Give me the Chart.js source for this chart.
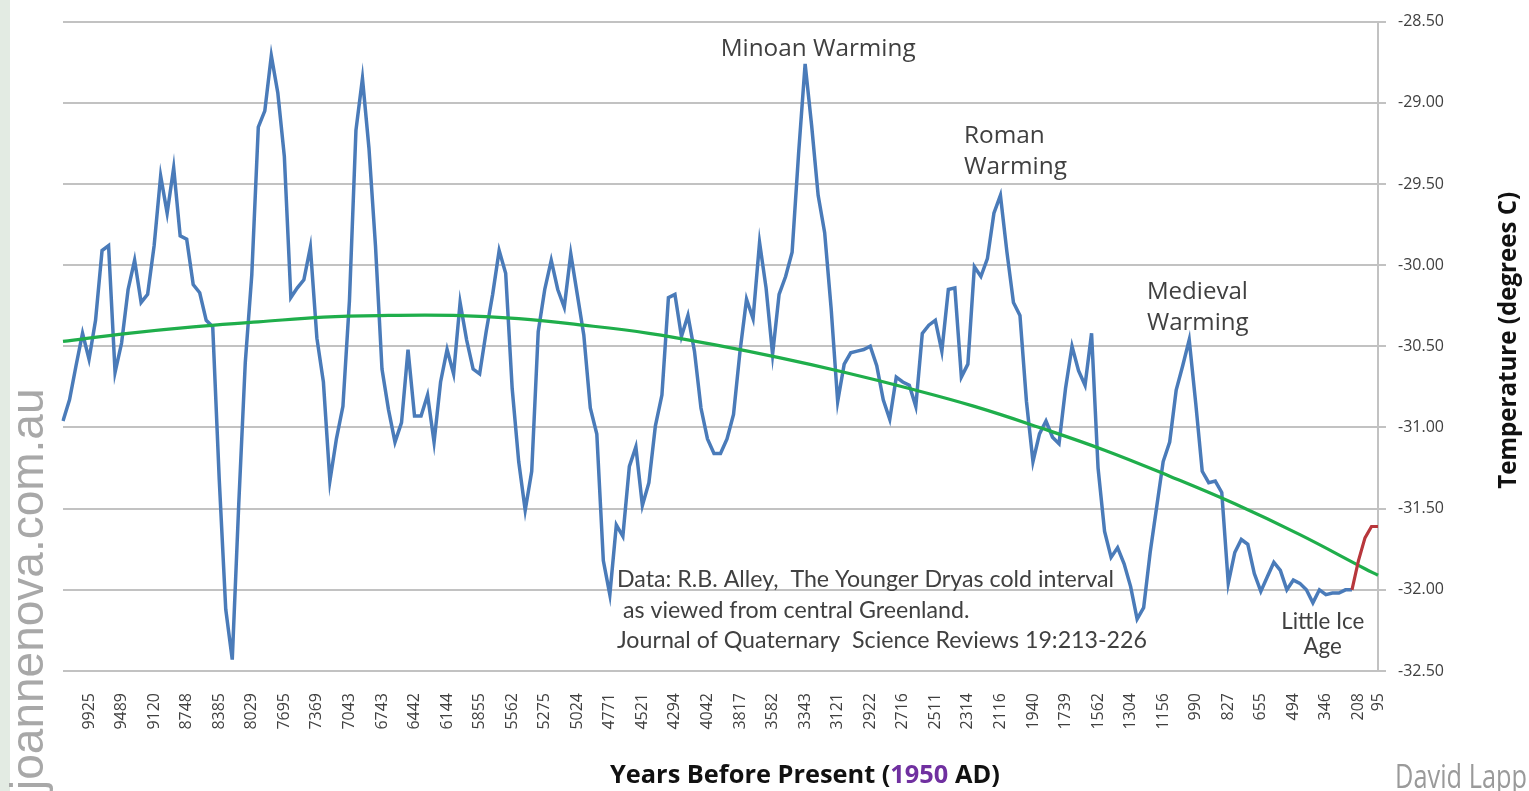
<!DOCTYPE html>
<html>
<head>
<meta charset="utf-8">
<script src="https://cdn.jsdelivr.net/npm/chart.js@4/dist/chart.umd.min.js"></script>
<style>
html,body{margin:0;padding:0;background:#fff;overflow:hidden}
#wrap{width:1529px;height:791px;position:relative}
</style>
</head>
<body>
<div id="wrap"><canvas id="c" width="1529" height="791"></canvas></div>
<script>
// ---- Tick labels (years before present) ----
const yearLabels = [9925, 9489, 9120, 8748, 8385, 8029, 7695, 7369, 7043, 6743, 6442,
  6144, 5855, 5562, 5275, 5024, 4771, 4521, 4294, 4042, 3817, 3582, 3343, 3121, 2922,
  2716, 2511, 2314, 2116, 1940, 1739, 1562, 1304, 1156, 990, 827, 655, 494, 346, 208, 95];

// ---- Greenland temperature series (deg C), one value per category ----
const blueTemps = [
  -30.96,-30.83,-30.62,-30.42,-30.58,-30.34,-29.91,-29.88,-30.66,-30.48,
  -30.15,-29.97,-30.23,-30.18,-29.88,-29.45,-29.68,-29.40,-29.82,-29.84,
  -30.12,-30.17,-30.34,-30.38,-31.32,-32.12,-32.43,-31.47,-30.60,-30.06,
  -29.15,-29.05,-28.71,-28.94,-29.33,-30.20,-30.14,-30.09,-29.89,-30.45,
  -30.72,-31.33,-31.07,-30.87,-30.22,-29.17,-28.85,-29.28,-29.88,-30.64,
  -30.89,-31.09,-30.97,-30.52,-30.93,-30.93,-30.80,-31.09,-30.72,-30.52,
  -30.67,-30.23,-30.46,-30.64,-30.67,-30.41,-30.18,-29.91,-30.05,-30.76,
  -31.21,-31.51,-31.27,-30.41,-30.15,-29.97,-30.15,-30.26,-29.93,-30.18,
  -30.43,-30.88,-31.04,-31.82,-32.03,-31.60,-31.67,-31.24,-31.12,-31.48,
  -31.34,-30.99,-30.80,-30.20,-30.18,-30.44,-30.31,-30.53,-30.88,-31.07,
  -31.16,-31.16,-31.07,-30.92,-30.53,-30.21,-30.33,-29.86,-30.14,-30.55,
  -30.18,-30.07,-29.92,-29.31,-28.76,-29.14,-29.57,-29.80,-30.27,-30.84,
  -30.61,-30.54,-30.53,-30.52,-30.50,-30.62,-30.83,-30.95,-30.69,-30.72,
  -30.74,-30.87,-30.42,-30.37,-30.34,-30.53,-30.15,-30.14,-30.69,-30.61,
  -30.01,-30.07,-29.96,-29.68,-29.57,-29.92,-30.23,-30.31,-30.84,-31.21,
  -31.04,-30.96,-31.06,-31.10,-30.76,-30.50,-30.65,-30.74,-30.42,-31.25,
  -31.64,-31.80,-31.74,-31.84,-31.98,-32.18,-32.11,-31.77,-31.49,-31.21,
  -31.09,-30.77,-30.62,-30.46,-30.85,-31.27,-31.34,-31.33,-31.40,-31.96,
  -31.77,-31.69,-31.72,-31.90,-32.01,-31.92,-31.83,-31.88,-32.00,-31.94,
  -31.96,-32.00,-32.08,-32.00,-32.03,-32.02,-32.02,-32.00,-32.00
];
// recent warming (red), continues from the last blue value
const redTemps = [-32.00, -31.82, -31.68, -31.61, -31.61];
// polynomial trend (green), read every 10th category plus the last one
const trendTemps = [-30.47,-30.42,-30.38,-30.35,-30.32,-30.31,-30.31,-30.33,-30.37,-30.42,
  -30.49,-30.57,-30.66,-30.76,-30.87,-31.00,-31.14,-31.30,-31.47,-31.66,-31.87,-31.91];

// ---- build category axis ----
const LABEL_FIRST = 4, LABEL_EVERY = 5, TREND_EVERY = 10;
const nCat = blueTemps.length + redTemps.length - 1;
const categories = Array.from({length: nCat}, () => '');
yearLabels.forEach((yr, j) => {
  const idx = (j < yearLabels.length - 1) ? LABEL_FIRST + j * LABEL_EVERY : nCat - 1;
  categories[idx] = String(yr);
});
const blueData = categories.map((_, i) => i < blueTemps.length ? blueTemps[i] : null);
const redStart = blueTemps.length - 1;
const redData = categories.map((_, i) => i >= redStart ? redTemps[i - redStart] : null);
const trendData = categories.map(() => null);
trendTemps.forEach((v, k) => {
  const idx = (k < trendTemps.length - 1) ? k * TREND_EVERY : nCat - 1;
  trendData[idx] = v;
});

// ---- annotations (anchored in data space: category index, temperature) ----
const notes = [
  {lines: ['Minoan Warming'], i: 116.0, t: -28.71, align: 'center', family: 'Open Sans', fit: ['Minoan Warming', 195], lh: 0},
  {lines: ['Roman', 'Warming'], i: 138.4, t: -29.25, align: 'left', family: 'Open Sans', fit: ['Warming', 103], lh: 0.19},
  {lines: ['Medieval', 'Warming'], i: 166.5, t: -30.21, align: 'left', family: 'Open Sans', fit: ['Medieval', 101], lh: 0.19},
  {lines: ['Data: R.B. Alley,  The Younger Dryas cold interval', ' as viewed from central Greenland.', 'Journal of Quaternary  Science Reviews 19:213-226'],
   i: 85.1, t: -31.985, align: 'left', family: 'Lato', fit: ['Data: R.B. Alley,  The Younger Dryas cold interval', 497], lh: 0.188},
  {lines: ['Little Ice', 'Age'], i: 193.5, t: -32.24, align: 'center', family: 'Lato', fit: ['Little Ice', 83], lh: 0.153}
];

function fitSize(ctx, text, family, weight, width) {
  ctx.font = weight + ' 20px "' + family + '"';
  const w = ctx.measureText(text).width;
  return 20 * width / w;
}

const deco = {
  id: 'deco',
  beforeDraw(chart) {
    const ctx = chart.ctx;
    ctx.save();
    ctx.fillStyle = '#ffffff';
    ctx.fillRect(0, 0, chart.width, chart.height);
    ctx.fillStyle = '#e3ebe3';
    ctx.fillRect(0, 0, 10, chart.height);
    ctx.restore();
  },
  afterDraw(chart) {
    const ctx = chart.ctx;
    const xs = chart.scales.x, ys = chart.scales.y;
    ctx.save();
    ctx.textBaseline = 'alphabetic';
    // annotations
    notes.forEach(n => {
      const size = fitSize(ctx, n.fit[0], n.family, 'normal', n.fit[1]);
      ctx.font = 'normal ' + size.toFixed(2) + 'px "' + n.family + '"';
      ctx.fillStyle = '#404040';
      ctx.textAlign = n.align;
      const x = xs.getPixelForValue(n.i);
      n.lines.forEach((line, k) => {
        const y = ys.getPixelForValue(n.t - k * n.lh);
        ctx.fillText(line, x, y);
      });
    });
    // y-axis title (reads bottom to top)
    const ca = chart.chartArea;
    let size = fitSize(ctx, 'Temperature (degrees C)', 'Open Sans', 'bold', 297);
    ctx.save();
    ctx.translate(1516, (ca.top + ca.bottom) / 2 - 6);
    ctx.rotate(-Math.PI / 2);
    ctx.font = 'bold ' + size.toFixed(2) + 'px "Open Sans"';
    ctx.fillStyle = '#111';
    ctx.textAlign = 'center';
    ctx.fillText('Temperature (degrees C)', 0, 0);
    ctx.restore();
    // x-axis title with purple year
    size = fitSize(ctx, 'Years Before Present (1950 AD)', 'Open Sans', 'bold', 390);
    ctx.font = 'bold ' + size.toFixed(2) + 'px "Open Sans"';
    const parts = [['Years Before Present (', '#111'], ['1950', '#7030a0'], [' AD)', '#111']];
    let px = 610;
    ctx.textAlign = 'left';
    parts.forEach(p => { ctx.fillStyle = p[1]; ctx.fillText(p[0], px, 783); px += ctx.measureText(p[0]).width; });
    // watermark
    ctx.save();
    ctx.translate(43, 790);
    ctx.rotate(-Math.PI / 2);
    ctx.font = '46px "Liberation Sans"';
    ctx.fillStyle = '#a8a8a8';
    ctx.textAlign = 'left';
    ctx.fillText('joannenova.com.au', 0, 0);
    ctx.restore();
    // author credit (narrow, like the original)
    ctx.save();
    ctx.font = '32px "Open Sans"';
    const cw = ctx.measureText('David Lapp').width;
    ctx.translate(1395, 788);
    ctx.scale(132 / cw, 1);
    ctx.fillStyle = '#9a9a9a';
    ctx.textAlign = 'left';
    ctx.fillText('David Lapp', 0, 0);
    ctx.restore();
    ctx.restore();
  }
};

function build() {
  const ctx = document.getElementById('c').getContext('2d');
  new Chart(ctx, {
    type: 'line',
    data: {
      labels: categories,
      datasets: [
        {label: 'Temperature', data: blueData, borderColor: '#4a7bb9', borderWidth: 3.5, pointRadius: 0, tension: 0, order: 3},
        {label: 'Trend', data: trendData, borderColor: '#1fae4b', borderWidth: 3.2, pointRadius: 0, spanGaps: true, tension: 0.4, order: 2},
        {label: 'Recent', data: redData, borderColor: '#b8373c', borderWidth: 3.2, pointRadius: 0, tension: 0, order: 1}
      ]
    },
    options: {
      responsive: false,
      animation: false,
      layout: {padding: {left: 63, top: 18, right: 0, bottom: 0}},
      plugins: {legend: {display: false}, tooltip: {enabled: false}, title: {display: false}},
      scales: {
        x: {
          type: 'category', offset: false,
          grid: {display: false}, border: {display: false},
          ticks: {autoSkip: false, minRotation: 90, maxRotation: 90, padding: 14,
                  color: '#404040', font: {family: 'Open Sans', size: 16}},
          afterFit(s) { s.height = 120; }
        },
        y: {
          position: 'right', min: -32.5, max: -28.5,
          ticks: {stepSize: 0.5, callback: v => v.toFixed(2), padding: 12,
                  color: '#404040', font: {family: 'Open Sans', size: 16}},
          grid: {color: '#c2c2c2', lineWidth: 2, tickLength: 8},
          border: {color: '#c2c2c2', width: 2},
          afterFit(s) { s.width = 151; }
        }
      }
    },
    plugins: [deco]
  });
}

const fontsToLoad = ['16px "Open Sans"', 'bold 16px "Open Sans"', '20px Lato', '46px "Liberation Sans"'];
Promise.all(fontsToLoad.map(f => document.fonts.load(f))).then(build, build);
</script>
</body>
</html>
